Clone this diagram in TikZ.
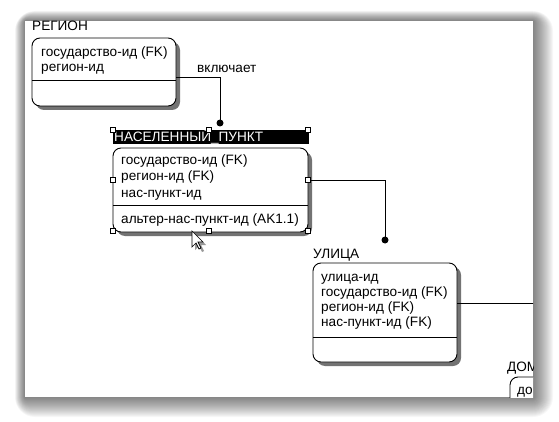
\documentclass[tikz,border=0pt]{standalone}
\usepackage{fontspec}
\setmainfont{Liberation Sans}
\usetikzlibrary{calc,shadows}
\begin{document}
\begin{tikzpicture}[x=1pt,y=-1pt,
  entity/.style={draw=black,line width=0.9pt,fill=white,rounded corners=8pt,
    drop shadow={shadow xshift=4pt,shadow yshift=-4pt,fill=black!55,opacity=1}},
  txt/.style={anchor=base west,inner sep=0pt,font=\fontsize{13.6}{15}\selectfont},
  ttl/.style={anchor=base west,inner sep=0pt,font=\fontsize{13.6}{15}\selectfont},
  sep/.style={line width=0.9pt},
  conn/.style={line width=0.9pt},
  dotc/.style={circle,fill=black,inner sep=0pt,minimum size=7pt},
  handle/.style={draw=black,fill=white,line width=0.6pt,inner sep=0pt,minimum size=5pt}
]
\useasboundingbox (0,0) rectangle (559,422);
% panel shadow
\foreach \d in {1,...,20}{
  \fill[black,opacity=0.03,rounded corners=\d pt] (25-0.5*\d,21-0.5*\d) rectangle (533+\d,397+\d);
}
\fill[white] (25,21) rectangle (533,397);
\begin{scope}
\clip (25,21) rectangle (533,397);
% РЕГИОН
\node[ttl] (regt) at (32,31) {РЕГИОН};
\node[entity,minimum width=144pt,minimum height=68pt] (reg) at (104,72) {};
\draw[sep] (32,80) -- (176,80);
\node[txt] (r1) at (41,57) {государство-ид (FK)};
\node[txt] (r2) at (41,72) {регион-ид};
% НАСЕЛЕННЫЙ_ПУНКТ
\node[fill=black,minimum width=196pt,minimum height=14pt,inner sep=0pt] (npt) at (211,137) {};
\node[ttl,text=white] (nptt) at (114,142) {НАСЕЛЕННЫЙ\_ПУНКТ};
\node[entity,minimum width=195pt,minimum height=84pt] (np) at (210.5,190) {};
\draw[sep] (113,205) -- (308,205);
\node[txt] (n1) at (121,165) {государство-ид (FK)};
\node[txt] (n2) at (121,181) {регион-ид (FK)};
\node[txt] (n3) at (121,197) {нас-пункт-ид};
\node[txt] (n4) at (121,223) {альтер-нас-пункт-ид (AK1.1)};
% УЛИЦА
\node[ttl] (ult) at (313,258) {УЛИЦА};
\node[entity,minimum width=144pt,minimum height=99pt] (ul) at (385,312.5) {};
\draw[sep] (313,337) -- (457,337);
\node[txt] (u1) at (321,281) {улица-ид};
\node[txt] (u2) at (321,296) {государство-ид (FK)};
\node[txt] (u3) at (321,311) {регион-ид (FK)};
\node[txt] (u4) at (321,326) {нас-пункт-ид (FK)};
% ДОМ
\node[ttl] (domt) at (507,371) {ДОМ};
\node[entity,minimum width=100pt,minimum height=80pt] (dom) at (560,417) {};
\node[txt] (d1) at (517,394) {до};
% connectors
\node[dotc] (dot1) at (220,123) {};
\node[dotc] (dot2) at (385,240) {};
\coordinate (c1) at ($(reg.east)+(0,5)$);
\draw[conn] (c1) -| (dot1.center);
\node[txt] (lbl) at (197,73) {включает};
\coordinate (c2) at ($(np.east)+(0,-10)$);
\draw[conn] (c2) -| (dot2.center);
\coordinate (c3) at ($(ul.east)+(0,-9.5)$);
\coordinate (c4) at (545,303);
\draw[conn] (c3) -- (c4);
% selection handles
\foreach \n/\p in {h1/{(113,130)},h2/{(209,130)},h3/{(308,130)},h4/{(113,180)},h5/{(308,180)},h6/{(113,231)},h7/{(209,231)},h8/{(308,231)}}{
  \node[handle] (\n) at \p {};
}
% mouse cursor
\begin{scope}[shift={(192,231)}]
\fill[black,opacity=0.4] (3,3) -- (3,19) -- (7,15) -- (10,21) -- (12,20) -- (9,14) -- (14,14) -- cycle;
\filldraw[fill=white,draw=black,line width=0.7pt] (0,0) -- (0,16) -- (4,12) -- (7,18) -- (9,17) -- (6,11) -- (11,11) -- cycle;
\end{scope}
\end{scope}
\end{tikzpicture}
\end{document}
